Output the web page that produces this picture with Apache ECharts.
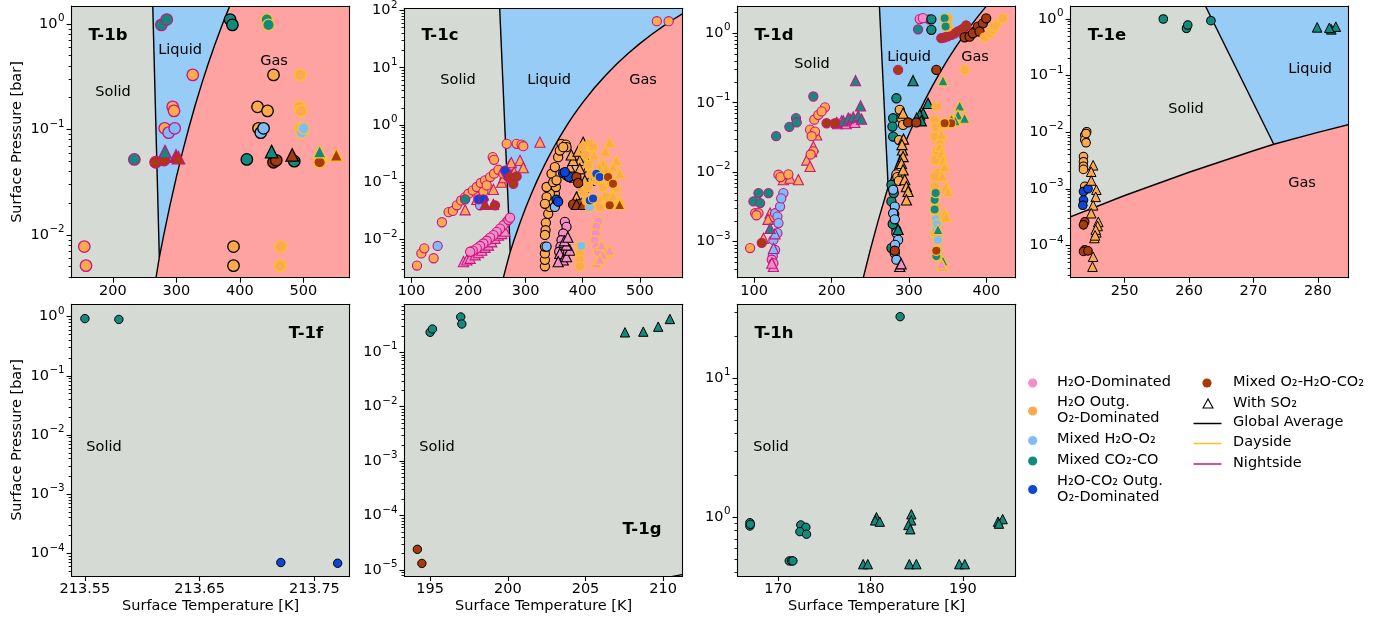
<!DOCTYPE html>
<html><head><meta charset="utf-8">
<script src="https://cdn.jsdelivr.net/npm/echarts@6/dist/echarts.min.js"></script>
<style>html,body{margin:0;padding:0;background:#fff}#c{width:1385px;height:620px}</style>
</head><body><div id="c"></div>
<script>
// ---------------- DATA ----------------
const panelNames = ['T-1b','T-1c','T-1d','T-1e','T-1f','T-1g','T-1h'];
const tempRanges = [[135,573],[88,575],[78.5,437.8],[241.6,284.8],[213.5384,213.7807],[193.35,211.25],[165.6,195.7]];
const pressureRanges = [[0.003936,1.479],[0.002148,109.6],[0.000303,2.47],[2.68e-5,1.698],[4.14e-5,1.622],[7.76e-6,0.762],[0.378,34.0]];
const tempTicks = [[200,300,400,500],[100,200,300,400,500],[100,200,300,400],[250,260,270,280],[213.55,213.65,213.75],[195,200,205,210],[170,180,190]];
const pressureTickExponents = [[-2,-1,0],[-2,-1,0,1,2],[-3,-2,-1,0],[-4,-3,-2,-1,0],[-4,-3,-2,-1,0],[-5,-4,-3,-2,-1],[0,1]];
const minorMultipliers = [2,3,4,5,6,7,8,9];

// water phase boundaries [T (K), P (bar)]
const meltingCurve = [[273.16,0.00612],[250.5,1000]];
const vaporCurve = [[273.16,0.00612],[280,0.00992],[290,0.0192],[300,0.0354],[310,0.0623],[320,0.1055],[330,0.1722],[340,0.2718],[350,0.4168],[360,0.6219],[373.12,1.0133],[380,1.2869],[390,1.7959],[400,2.4577],[420,4.370],[440,7.335],[460,11.71],[480,17.90],[500,26.39],[520,37.69],[540,52.38],[560,71.08],[580,94.51],[600,123.4]];
const sublimationCurve = [[273.16,0.00612],[270,0.004701],[260,0.001958],[250,0.0007602],[240,0.0002728],[230,0.00008947],[220,0.00002659],[210,0.00000702],[200,0.000001626]];

// [group, side, marker, [[T, P], ...]]
const panelB = [
 ['outg','n','o',[[155,0.00776],[157.7,0.00512],[325.8,0.329],[294.2,0.164],[296.3,0.150],[281.6,0.1026]]],
 ['mix','n','o',[[287.9,0.0933],[297.4,0.1026]]],
 ['co2','n','o',[[233.8,0.052],[276.4,0.98],[284.8,1.10]]],
 ['o2mix','n','o',[[267.4,0.0489],[280.6,0.0513]]],
 ['co2','n','^',[[282.1,0.0617]]],
 ['o2mix','n','^',[[299.5,0.056],[303.2,0.054]]],
 ['outg','g','o',[[390,0.00776],[390,0.00512],[453,0.329],[427.8,0.164],[443.6,0.150],[429.4,0.1026]]],
 ['mix','g','o',[[433,0.0933],[437.3,0.1026]]],
 ['co2','g','o',[[384.6,1.10],[388.3,0.98],[411,0.052],[485.7,0.050]]],
 ['o2mix','g','o',[[453,0.0489],[457.3,0.051]]],
 ['co2','g','^',[[450,0.0617]]],
 ['o2mix','g','^',[[482.5,0.0573]]],
 ['outg','d','o',[[464.4,0.00776],[463.4,0.00512],[495,0.329],[494,0.164],[496.6,0.150],[495,0.1026],[528,0.051]]],
 ['mix','d','o',[[497.7,0.0933],[500.4,0.1026]]],
 ['co2','d','o',[[442.5,1.10],[445.1,0.98]]],
 ['o2mix','d','o',[[525.6,0.0489]]],
 ['co2','d','^',[[525.6,0.0617]]],
 ['o2mix','d','^',[[551.9,0.0573]]]
];

const panelC = [
 ['h2o','n','^',[[191.3,0.0041],[197.2,0.0044],[203,0.0047],[211.7,0.0054],[217.5,0.0059],[223.3,0.0065],[229.1,0.0073],[235,0.008],[240.8,0.0091],[246.6,0.0105],[252.4,0.0119],[258.2,0.0127],[264,0.014]]],
 ['h2o','n','o',[[267,0.0203],[261.1,0.0177],[255.3,0.0155],[249.5,0.0136],[243.7,0.0119],[237.9,0.0108],[232,0.0095],[226.2,0.0085],[220.4,0.0077],[214.6,0.007],[207.6,0.0064],[203,0.0061],[270,0.022],[272.8,0.024]]],
 ['outg','n','^',[[194.2,0.033],[214.6,0.05],[226.2,0.06],[243.7,0.075],[258.2,0.1],[264,0.14],[268,0.17],[272,0.2],[275,0.22],[290.2,0.24],[296,0.18],[325.1,0.5],[280,0.15],[262,0.12]]],
 ['outg','n','o',[[109.9,0.0035],[117.5,0.0057],[122.7,0.007],[139,0.0047],[153.5,0.02],[165.2,0.03],[172.7,0.0315],[179.7,0.0395],[187.3,0.048],[194.2,0.055],[200,0.063],[207.6,0.072],[214.6,0.0825],[221.6,0.097],[229.1,0.108],[237.9,0.123],[244.8,0.141],[252.4,0.165],[242.5,0.274],[244.8,0.246],[261.1,0.141],[267,0.468],[284.4,0.468],[293.1,0.455],[296,0.426],[217.5,0.055],[226.2,0.068],[232,0.088],[529.9,65],[550.6,65]]],
 ['mix','n','o',[[146,0.0077],[220.4,0.0395]]],
 ['co2','n','o',[[194.2,0.05]]],
 ['co2outg','n','o',[[217.5,0.05],[226.2,0.05],[267,0.141],[269.9,0.123],[264,0.16]]],
 ['o2mix','n','o',[[272.8,0.123],[284.4,0.126],[278.6,0.094],[246.6,0.0395]]],
 ['o2mix','n','^',[[229.1,0.041],[243.7,0.041]]],
 ['outg','g','o',[[333.9,0.0034],[333.9,0.0044],[333.9,0.0057],[333.9,0.0075],[335.6,0.0195],[339.7,0.028],[342.6,0.037],[345.5,0.048],[351.3,0.063],[353.1,0.0825],[345.5,0.141],[351.3,0.184],[357.1,0.274],[360,0.358],[362.9,0.468],[370.5,0.455],[371.7,0.41],[365.9,0.41],[339.7,0.048],[342.6,0.063],[336.8,0.0825],[348.4,0.1],[354.2,0.108],[336.8,0.055],[333.9,0.042],[335,0.0145],[334,0.012]]],
 ['mix','g','o',[[336.8,0.0075],[351.3,0.037]]],
 ['h2o','g','o',[[368.8,0.0203],[371.7,0.0166],[365.9,0.0127],[362.9,0.0097],[361.2,0.0075],[358.9,0.0061]]],
 ['h2o','g','^',[[360,0.0057],[365.9,0.0044],[371.7,0.005],[377.5,0.0065],[371.7,0.008],[357.1,0.0041],[368,0.0095],[374,0.011]]],
 ['outg','g','^',[[400.8,0.5],[403.7,0.274],[394.9,0.24],[409.5,0.184],[412.4,0.108],[400.8,0.0825],[389.1,0.055],[397.8,0.0423],[377.5,0.184],[383.3,0.24],[394.9,0.172],[386.2,0.123],[403.7,0.108],[380,0.3],[392,0.35]]],
 ['co2outg','g','o',[[365.9,0.144],[371.7,0.132],[376.3,0.123],[354.2,0.0497],[357.1,0.0458],[368.8,0.15]]],
 ['o2mix','g','o',[[389.1,0.123],[392,0.097],[383.3,0.041],[394.9,0.042]]],
 ['o2mix','g','^',[[389.1,0.041],[400.8,0.041]]],
 ['outg','d','o',[[400.8,0.41],[412.4,0.468],[418.2,0.41],[415.3,0.141],[424,0.108],[435.7,0.0825],[426.9,0.048],[429.8,0.037],[441.5,0.055],[394.9,0.0075],[394.9,0.0057],[394.9,0.0044],[394.9,0.0034],[400.8,0.068],[409.5,0.0825],[406.6,0.048],[447.3,0.045],[405,0.3],[410,0.2]]],
 ['outg','d','^',[[447.3,0.5],[458.9,0.24],[453.1,0.184],[464.7,0.141],[435.7,0.21],[447.3,0.108],[458.9,0.0825],[453.1,0.059],[464.7,0.048],[441.5,0.172],[429.8,0.184],[420,0.3],[440,0.35]]],
 ['h2o','d','o',[[426.9,0.0203],[424,0.0166],[422.9,0.0127],[421.1,0.0097],[424,0.0075],[426.9,0.0061]]],
 ['h2o','d','^',[[432.8,0.008],[441.5,0.0061],[447.3,0.0065],[435.7,0.0054],[424,0.0039],[430,0.0045]]],
 ['mix','d','o',[[397.8,0.0077],[412.4,0.037]]],
 ['co2outg','d','o',[[424,0.141],[429.8,0.123],[412.4,0.048],[418.2,0.052]]],
 ['o2mix','d','o',[[444.4,0.123],[453.1,0.094],[447.3,0.0395]]],
 ['o2mix','d','^',[[464.7,0.041]]]
];

const panelD = [
 ['outg','n','^',[[112,0.00112],[120.6,0.00257],[122.8,0.0023],[118,0.0021],[137.8,0.0078],[146.4,0.0082],[157.1,0.0078],[167.9,0.015],[172.2,0.0121],[174.3,0.0198],[176.5,0.0234],[180.8,0.0344]]],
 ['outg','n','o',[[94.8,0.00081],[101.3,0.00257],[105.6,0.00257],[103,0.0024],[131.4,0.0092],[134,0.0085],[144.2,0.0093],[172.2,0.041],[177.7,0.057],[182.9,0.067],[191.5,0.086],[187.2,0.075],[178.6,0.0385],[174.3,0.033],[176.5,0.02],[173,0.018]]],
 ['co2','n','o',[[99.1,0.0038],[105.6,0.005],[107.7,0.0036],[118.5,0.005],[128.4,0.033],[145.5,0.045],[154.1,0.06],[155,0.052],[176.5,0.123],[311.8,1.14],[326,1.59]]],
 ['mix','n','o',[[127.1,0.00257],[130.1,0.0023],[131.4,0.00185],[133.5,0.0032],[124.9,0.00106],[127.1,0.00076],[130.1,0.00133],[124.1,0.00062],[137.8,0.005],[135,0.0042]]],
 ['mix','n','^',[[127,0.0013],[125,0.0008]]],
 ['h2o','n','o',[[122.8,0.00055],[124.9,0.00049],[314,1.6],[318,1.65]]],
 ['h2o','n','^',[[124.9,0.00044],[122.8,0.00049],[208,0.05],[213,0.055],[219,0.05],[224,0.058],[230,0.052]]],
 ['co2','n','^',[[120.6,0.00156],[206.5,0.052],[215.1,0.055],[221.6,0.06],[228,0.062],[234.5,0.065],[238.8,0.058],[231,0.208],[237.5,0.09]]],
 ['o2mix','n','o',[[193.6,0.0507],[204.4,0.0507],[109.9,0.00096],[286,0.297],[341.8,0.85],[346,0.87],[350,0.9],[355,0.95],[359,1.0],[364,1.07],[369,1.15],[374,1.3]]],
 ['co2','g','o',[[283.8,0.116],[279.6,0.0598],[278.7,0.0454],[279.6,0.0326],[277.4,0.0066],[277.4,0.0038],[280.4,0.005],[277.4,0.00081],[283.8,0.00148],[329,1.59],[329,1.12],[281,0.0025],[279,0.0018]]],
 ['mix','g','o',[[279.6,0.0056],[281.7,0.0032],[279.6,0.00257],[281.7,0.0021],[283.8,0.00133],[286,0.00106],[281.7,0.00068],[283.8,0.00055],[282,0.0009]]],
 ['outg','g','o',[[288.1,0.079],[290.3,0.0598],[292.4,0.048],[287.3,0.029],[283.8,0.0093],[285,0.0085],[287,0.0075]]],
 ['h2o','g','^',[[288.1,0.00044],[290,0.00048]]],
 ['outg','g','^',[[292.4,0.0707],[291.6,0.021],[292.4,0.0168],[290.3,0.0134],[292.4,0.0108],[294.6,0.0078],[296.7,0.0062],[298.9,0.0053],[296.7,0.004],[293,0.03],[291,0.025]]],
 ['co2','g','^',[[305.3,0.208],[318.2,0.0707],[324.7,0.098],[313.9,0.067],[310,0.06],[316,0.055],[286,0.0015]]],
 ['o2mix','g','o',[[298.9,0.052],[309.6,0.052],[335.4,0.297],[371.9,0.875],[378.4,0.895],[384.8,1.06],[389.1,1.25],[395.5,1.39],[399.8,1.64],[382.6,1.0],[391.2,1.06],[281.7,0.00074]]],
 ['outg','d','o',[[335.4,0.088],[333.2,0.0566],[334.5,0.045],[333.2,0.0326],[337.5,0.0098],[333.2,0.0087],[333.2,0.0062],[334.5,0.0032],[335.4,0.0023],[333.2,0.00133],[350.4,1.64],[350.4,1.25],[397.7,0.875],[404.1,1.0],[408.4,1.12],[412.7,1.32],[421.3,1.64],[410.6,1.25],[371.9,0.297],[336,0.02],[334,0.015]]],
 ['outg','d','^',[[339.7,0.0236],[341.8,0.0188],[344,0.015],[346.1,0.012],[343.1,0.0087],[348.3,0.0062],[350.4,0.0053],[346.1,0.00257],[348.3,0.0023],[340,0.03],[342,0.035],[345,0.05]]],
 ['co2','d','o',[[333.2,0.004],[333.2,0.0029],[334.5,0.005],[346.1,1.64],[347.4,1.25],[335.4,0.00062]]],
 ['mix','d','o',[[334.5,0.0021],[335.4,0.0015],[337.5,0.00106],[337.5,0.00076],[336,0.0018]]],
 ['co2','d','^',[[344,0.208],[365.5,0.09],[363.3,0.067],[371.9,0.06],[355,0.058],[337.5,0.0015],[344,0.00053],[360,0.055]]],
 ['h2o','d','^',[[344,0.00044],[342,0.00048]]],
 ['o2mix','d','o',[[354.7,0.0507],[346.1,0.0507],[335.4,0.00074]]]
];

const panelE = [
 ['outg','g','o',[[244.1,0.0102],[243.8,0.0089],[243.8,0.0073],[244,0.0065],[243.6,0.0037],[243.6,0.003],[243.6,0.0025],[243.6,0.0022],[243.8,0.0011],[244,0.0095]]],
 ['co2outg','g','o',[[243.6,0.00089],[244.3,0.001],[243.6,0.00063],[243.5,0.00051]]],
 ['o2mix','g','o',[[243.8,0.00026],[243.6,0.00023],[243.8,0.000083],[243.6,0.000078],[244.3,0.00008]]],
 ['outg','g','^',[[245.1,0.0026],[244.8,0.002],[244.8,0.0014],[245.6,0.00096],[245.5,0.00072],[245.1,0.00051],[244.8,0.00037],[245.9,0.00026],[245.8,0.00022],[245.6,0.00017],[245.3,0.000135],[245.5,0.00019],[245.4,0.00015],[245.1,0.000063],[245,0.000042]]],
 ['co2','g','o',[[256,1.0],[259.6,0.684],[259.8,0.783],[263.4,0.934]]],
 ['co2','g','^',[[279.9,0.712],[282.1,0.657],[282.8,0.732],[281.8,0.7]]]
];

const panelF = [
 ['co2','g','o',[[213.55,0.93],[213.5796,0.90]]],
 ['co2outg','g','o',[[213.7207,7.0e-5],[213.7702,6.8e-5]]]
];

const panelG = [
 ['co2','g','o',[[195.0,0.233],[195.15,0.268],[196.97,0.446],[197.04,0.331]]],
 ['co2','g','^',[[207.54,0.233],[208.72,0.24],[209.68,0.296],[210.43,0.41]]],
 ['o2mix','g','o',[[194.18,2.4e-5],[194.47,1.32e-5]]]
];

const panelH = [
 ['co2','g','o',[[183.2,27.7],[166.94,0.914],[166.94,0.865],[167,0.89],[172.45,0.88],[173.0,0.847],[172.35,0.788],[173.07,0.755],[171.2,0.485],[171.45,0.485],[171.6,0.485]]],
 ['co2','g','^',[[180.64,1.0],[180.5,0.95],[181,0.93],[184.42,1.05],[184.4,0.95],[184.1,0.88],[184.3,0.82],[179.2,0.46],[179.7,0.46],[184.2,0.46],[184.96,0.46],[189.6,0.46],[190.2,0.46],[193.8,0.93],[194.3,0.97],[193.9,0.9]]]
];

const panelData = [panelB, panelC, panelD, panelE, panelF, panelG, panelH];

const legendLeft = [
 ['h2o', ['H₂O-Dominated']],
 ['outg', ['H₂O Outg.','O₂-Dominated']],
 ['mix', ['Mixed H₂O-O₂']],
 ['co2', ['Mixed CO₂-CO']],
 ['co2outg', ['H₂O-CO₂ Outg.','O₂-Dominated']]
];
const legendRight = [
 ['o2mix','dot','Mixed O₂-H₂O-CO₂'],
 ['', 'tri', 'With SO₂'],
 ['g', 'line', 'Global Average'],
 ['d', 'line', 'Dayside'],
 ['n', 'line', 'Nightside']
];

// ---------------- STYLE / LAYOUT ----------------
const FONT = 'DejaVu Sans';
const groupColors = {h2o:'#F68EC6', outg:'#FDA94D', mix:'#7FBDFA', co2:'#128A7E', co2outg:'#0C45D8', o2mix:'#A83A0B'};
const sideColors = {g:'#000000', d:'#FDC22B', n:'#C8157F'};
const regionColors = ['#D6DAD5','#97CCF6','#FFA2A2'];
const gridLefts = [71.6,404.5,737.5,1070.6,71.6,404.5,737.5];
const gridTops = [6,6,6,6,304.3,304.3,304.3];
const GW = 278.1, GH = 271.7;
const markerSize = [11.5,9.2,9.2,8.6,8.4,8.4,8.4];
const borderW = [1.3,1.1,1.1,1.0,1.0,1.0,1.0];

const lg = v => Math.log10(v);

// polygons for phase regions
const rev = a => a.slice().reverse();
const TP = meltingCurve[0];
const solidPoly = [[40,1000], meltingCurve[1], TP, ...sublimationCurve.slice(1), [100,1e-12], [40,1e-12]];
const liquidPoly = [TP, meltingCurve[1], [700,1000], [700,123.4], ...rev(vaporCurve.slice(1))];
const gasPoly = [TP, ...vaporCurve.slice(1), [700,123.4], [700,1e-12], [100,1e-12], ...rev(sublimationCurve.slice(1))];
const shapes = [solidPoly, liquidPoly, gasPoly];
const lines = [meltingCurve, vaporCurve, sublimationCurve];

const grid = [], xAxis = [], yAxis = [], series = [];
const axisLineStyle = {color:'#000', width:1.1};
for (let p = 0; p < 7; p++) {
  grid.push({left: gridLefts[p], top: gridTops[p], width: GW, height: GH, containLabel: false});
  const [tmin, tmax] = tempRanges[p];
  const ymin = lg(pressureRanges[p][0]), ymax = lg(pressureRanges[p][1]);
  xAxis.push({type:'value', gridIndex:p, min:tmin, max:tmax, position:'bottom', z:10,
    axisLine:{show:true, onZero:false, lineStyle:axisLineStyle},
    axisTick:{show:true, customValues: tempTicks[p], length:5, lineStyle:{color:'#000', width:1.1}},
    axisLabel:{show:true, customValues: tempTicks[p], margin:6, fontFamily:FONT, fontSize:14.5, color:'#000',
      formatter: v => p === 4 ? v.toFixed(2) : String(Math.round(v))},
    splitLine:{show:false}});
  xAxis.push({type:'value', gridIndex:p, min:tmin, max:tmax, position:'top', z:10,
    axisLine:{show:true, onZero:false, lineStyle:axisLineStyle}, axisTick:{show:false}, axisLabel:{show:false}, splitLine:{show:false}});
  const exps = pressureTickExponents[p];
  const minors = [];
  for (let n = Math.floor(ymin); n <= Math.ceil(ymax); n++) {
    minorMultipliers.forEach(k => { const v = n + lg(k); if (v > ymin && v < ymax) minors.push(v); });
  }
  yAxis.push({type:'value', gridIndex:p, min:ymin, max:ymax, position:'left', z:10,
    axisLine:{show:true, onZero:false, lineStyle:axisLineStyle},
    axisTick:{show:true, customValues: exps, length:5, lineStyle:{color:'#000', width:1.1}},
    axisLabel:{show:true, customValues: exps, margin:7, color:'#000',
      formatter: v => '{b|10}{s|' + String(Math.round(v)).replace('-', '\u2212') + '}',
      rich:{
        b:{fontFamily:FONT, fontSize:14.5, color:'#000', lineHeight:21, verticalAlign:'middle'},
        s:{fontFamily:FONT, fontSize:10.3, color:'#000', lineHeight:11, verticalAlign:'top', padding:[0,0,0,0.5]}
      }},
    splitLine:{show:false}});
  yAxis.push({type:'value', gridIndex:p, min:ymin, max:ymax, position:'left', z:10,
    axisLine:{show:false, onZero:false},
    axisTick:{show:true, customValues: minors, length:3, lineStyle:{color:'#000', width:0.9}},
    axisLabel:{show:false}, splitLine:{show:false}});
  yAxis.push({type:'value', gridIndex:p, min:ymin, max:ymax, position:'right', z:10,
    axisLine:{show:true, onZero:false, lineStyle:axisLineStyle}, axisTick:{show:false}, axisLabel:{show:false}, splitLine:{show:false}});

  // phase regions + boundaries
  series.push({type:'custom', xAxisIndex:2*p, yAxisIndex:3*p, clip:true, silent:true, z:1,
    data:[[0],[1],[2],[3],[4],[5]],
    renderItem: (params, api) => {
      const i = params.dataIndex;
      const cs = params.coordSys;
      const clip = {type:'rect', shape:{x:cs.x, y:cs.y, width:cs.width, height:cs.height}};
      if (i < 3) {
        const pts = shapes[i].map(([t, pr]) => api.coord([t, lg(pr)]));
        return {type:'polygon', shape:{points:pts}, style:{fill:regionColors[i], stroke:null}, clipPath: clip};
      }
      const pts = lines[i-3].map(([t, pr]) => api.coord([t, lg(pr)]));
      return {type:'polyline', shape:{points:pts}, style:{stroke:'#000', lineWidth:1.4, fill:null}, clipPath: clip};
    }});

  panelData[p].forEach(([grp, side, mk, pts]) => {
    series.push({type:'scatter', xAxisIndex:2*p, yAxisIndex:3*p, silent:true, z:3,
      symbol: mk === '^' ? 'triangle' : 'circle',
      symbolSize: mk === '^' ? markerSize[p] + 1 : markerSize[p],
      itemStyle:{color: groupColors[grp], borderColor: sideColors[side], borderWidth: borderW[p], opacity:1},
      data: pts.map(([t, pr]) => [t, lg(pr)])});
  });
}

// ---------------- TEXT ----------------
const txt = (x, y, text, opts = {}) => ({type:'text', x, y, z:50, rotation: opts.rot || 0,
  style:{text, fill:'#000', font: (opts.bold ? 'bold ' : '') + (opts.size || 14.5) + 'px ' + FONT,
    textAlign: opts.align || 'center', align: opts.align || 'center', textVerticalAlign:'middle', verticalAlign:'middle'}});

const graphics = [];
const titlePos = [[108,36],[440,36],[774,36],[1107,36],[306,334],[642,530],[774,334]];
panelNames.forEach((n, i) => graphics.push(txt(titlePos[i][0], titlePos[i][1], n, {bold:true, size:16.5})));
const phaseLabels = [
 [113,92,'Solid'],[180,50,'Liquid'],[274,61,'Gas'],
 [458,80,'Solid'],[549,80,'Liquid'],[643,80,'Gas'],
 [812,64,'Solid'],[909,57,'Liquid'],[975,57,'Gas'],
 [1186,109,'Solid'],[1310,69,'Liquid'],[1302,183,'Gas'],
 [104,447,'Solid'],[437,447,'Solid'],[771,447,'Solid']
];
phaseLabels.forEach(([x,y,t]) => graphics.push(txt(x, y, t)));
graphics.push(txt(17, 142, 'Surface Pressure [bar]', {rot: Math.PI/2}));
graphics.push(txt(17, 440, 'Surface Pressure [bar]', {rot: Math.PI/2}));
[210.6, 543.6, 876.6].forEach(x => graphics.push(txt(x, 606, 'Surface Temperature [K]')));

// legend
const leftRows = [383, 411, 440.5, 461, 489.5];
legendLeft.forEach(([g, labels], i) => {
  const y = leftRows[i];
  graphics.push({type:'circle', z:50, shape:{cx:1032.7, cy:y, r:4.6}, style:{fill:groupColors[g]}});
  if (labels.length === 1) graphics.push(txt(1057, y - 1, labels[0], {align:'left'}));
  else { graphics.push(txt(1057, y - 8.5, labels[0], {align:'left'})); graphics.push(txt(1057, y + 7.5, labels[1], {align:'left'})); }
});
const rightRows = [383, 404, 423.5, 443.5, 464];
legendRight.forEach(([k, kind, label], i) => {
  const y = rightRows[i];
  if (kind === 'dot') graphics.push({type:'circle', z:50, shape:{cx:1207, cy:y, r:4.6}, style:{fill:groupColors[k]}});
  else if (kind === 'tri') graphics.push({type:'polygon', z:50, shape:{points:[[1208,y-5],[1203,y+4],[1213,y+4]]}, style:{fill:'#fff', stroke:'#000', lineWidth:1.1}});
  else graphics.push({type:'line', z:50, shape:{x1:1193.5, y1:y, x2:1221.5, y2:y}, style:{stroke:sideColors[k], lineWidth:1.5}});
  graphics.push(txt(1233, y - 1, label, {align:'left'}));
});

const chart = echarts.init(document.getElementById('c'), null, {renderer:'canvas'});
chart.setOption({animation:false, backgroundColor:'#fff', grid, xAxis, yAxis, series, graphic:{elements:graphics}});
</script></body></html>
